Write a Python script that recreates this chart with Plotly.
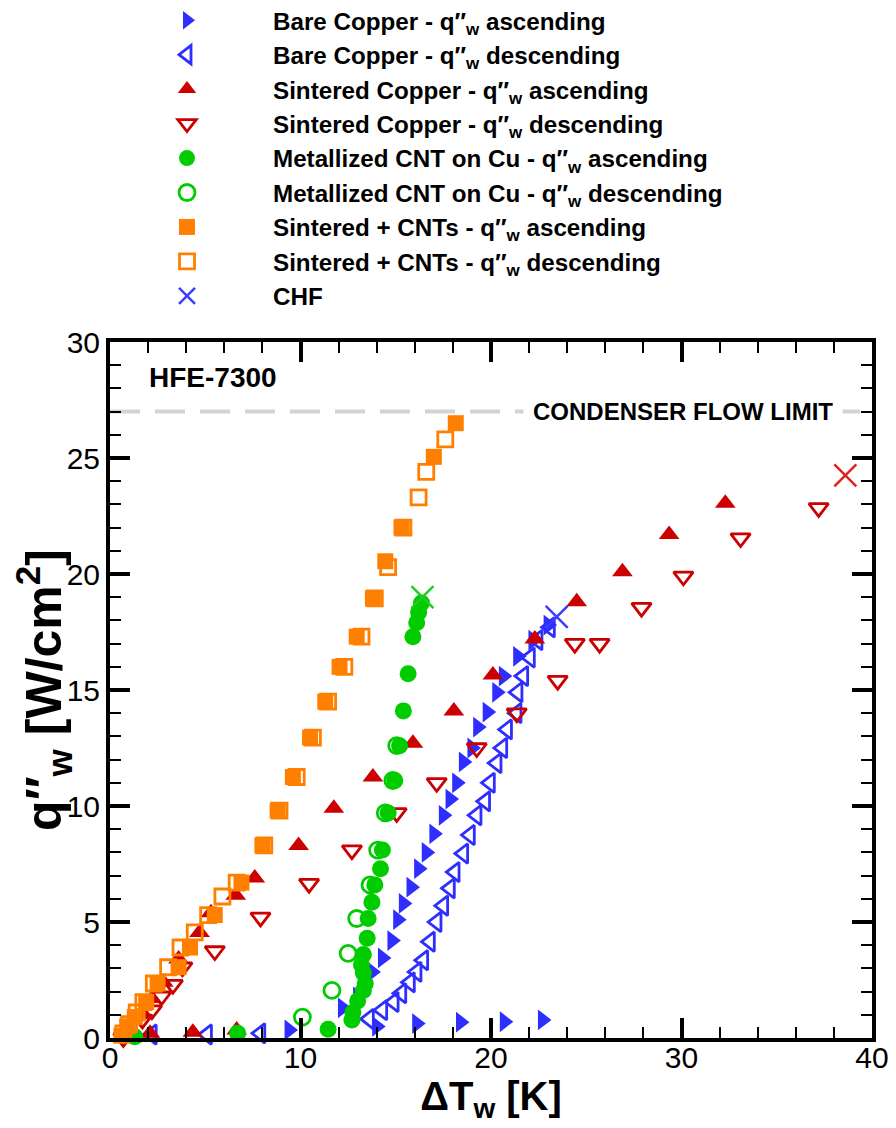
import plotly.graph_objects as go

# ---------------- data ----------------
bare_asc_x = [9.4, 14.0, 16.1, 18.4, 20.7, 22.7, 12.2, 13.0, 13.75, 14.3, 14.8, 15.1, 15.4, 15.8, 16.2, 16.6,
              17.0, 17.5, 17.85, 18.2, 18.55, 19.0, 19.3, 19.8, 20.3, 20.65, 21.4, 22.2, 23.0]
bare_asc_y = [0.35, 0.5, 0.62, 0.68, 0.7, 0.78, 1.3, 1.77, 2.85, 3.45, 4.2, 5.1, 5.8, 6.5, 7.3, 8.0,
              8.8, 9.6, 10.3, 11.0, 11.9, 12.5, 13.4, 14.05, 14.9, 15.6, 16.45, 17.15, 17.8]

bare_desc_x = [23.1, 22.45, 22.05, 21.7, 21.4, 21.35, 20.85, 20.6, 20.3, 19.95, 19.7, 19.25, 18.9, 18.55,
               18.1, 17.85, 17.5, 17.15, 16.8, 16.45, 16.1, 15.75, 15.3, 14.9, 14.3, 13.6, 7.9, 5.1, 2.2]
bare_desc_y = [17.7, 17.15, 16.4, 15.6, 14.9, 14.0, 13.3, 12.5, 11.85, 11.0, 10.2, 9.6, 8.75, 7.95,
               7.15, 6.45, 5.7, 5.0, 4.15, 3.35, 2.85, 2.4, 1.93, 1.55, 1.2, 0.82, 0.2, 0.15, 0.15]

sint_asc_x = [0.7, 2.1, 4.35, 6.65, 1.0, 1.6, 2.2, 2.8, 3.6, 4.7, 5.3, 6.6, 7.6, 9.9, 11.75, 13.8, 15.9,
              18.05, 20.1, 22.3, 24.5, 26.9, 29.35, 32.3]
sint_asc_y = [0.0, 0.2, 0.25, 0.35, 0.4, 1.0, 1.7, 2.4, 3.4, 4.55, 5.4, 6.15, 6.9, 8.3, 9.9, 11.25, 12.7,
              14.1, 15.65, 17.2, 18.8, 20.1, 21.7, 23.05]

sint_desc_x = [37.2, 33.1, 30.1, 27.9, 25.7, 24.4, 23.5, 21.35, 19.25, 17.15, 15.05, 12.7, 10.45, 7.9,
               5.5, 3.8, 3.3, 2.7, 2.2, 1.7, 0.7]
sint_desc_y = [22.85, 21.55, 19.9, 18.55, 17.0, 17.0, 15.4, 14.0, 12.5, 11.0, 9.7, 8.1, 6.65, 5.2,
               3.75, 3.05, 2.3, 1.8, 1.2, 0.8, 0.0]

cnt_asc_x = [1.3, 6.7, 11.45, 12.7, 12.75, 13.0, 13.3, 13.4, 13.3, 13.2, 13.3, 13.5, 13.55, 13.75, 13.9,
             14.2, 14.3, 14.6, 14.95, 15.2, 15.4, 15.65, 15.9, 16.1, 16.2, 16.35]
cnt_asc_y = [0.05, 0.2, 0.38, 0.78, 1.1, 1.6, 2.05, 2.35, 2.8, 3.15, 3.6, 4.3, 5.15, 5.85, 6.6,
             7.3, 8.1, 9.7, 11.1, 12.6, 14.1, 15.7, 17.3, 17.9, 18.35, 18.75]

cnt_desc_x = [15.05, 14.85, 14.45, 14.05, 13.65, 12.95, 12.5, 11.65, 10.1]
cnt_desc_y = [12.6, 11.1, 9.7, 8.1, 6.6, 5.15, 3.65, 2.05, 0.9]

scnt_asc_x = [0.6, 0.9, 1.3, 1.9, 2.5, 3.6, 4.2, 5.5, 6.9, 8.0, 8.8, 9.6, 10.5, 11.3, 12.05, 12.95,
              13.8, 14.45, 15.3, 17.0, 18.15]
scnt_asc_y = [0.1, 0.5, 0.9, 1.55, 2.35, 3.05, 3.9, 5.3, 6.7, 8.3, 9.8, 11.25, 12.95, 14.5, 16.0, 17.3,
              18.95, 20.55, 22.0, 25.05, 26.5]

scnt_desc_x = [17.6, 16.6, 16.2, 15.4, 14.6, 13.9, 13.2, 12.3, 11.45, 10.65, 9.8, 8.9, 8.1, 6.65, 5.9,
               5.15, 4.45, 3.7, 3.05, 2.3, 1.75, 1.4, 1.0, 0.7]
scnt_desc_y = [25.8, 24.4, 23.3, 22.0, 20.3, 18.95, 17.3, 16.0, 14.5, 12.95, 11.25, 9.8, 8.3, 6.7, 6.1,
               5.3, 4.55, 3.9, 3.05, 2.35, 1.55, 1.1, 0.6, 0.2]

chf_x = [23.45, 16.4, 38.6]
chf_y = [18.15, 19.0, 24.25]
chf_colors = ["#3d3dff", "#22cc22", "#dd2222"]

limit_y = 27
x_range = [0, 40]
y_range = [0, 30]

BLUE = "#2e2eff"
RED = "#cc0000"
GREEN = "#00cc00"
ORANGE = "#ff8000"
FONT = "Liberation Sans, Arial"

fig = go.Figure()

def add(x, y, name, symbol, color, filled, size=15):
    if filled:
        marker = dict(symbol=symbol, size=size, color=color, line=dict(width=0))
    else:
        marker = dict(symbol=symbol + "-open", size=size - 1, color=color, line=dict(width=2.8, color=color))
    fig.add_trace(go.Scatter(x=x, y=y, mode="markers", name=name, marker=marker, cliponaxis=False))

add(bare_asc_x, bare_asc_y, "Bare Copper - q″<sub>w</sub> ascending", "triangle-right", BLUE, True, 18)
add(bare_desc_x, bare_desc_y, "Bare Copper - q″<sub>w</sub> descending", "triangle-left", BLUE, False, 18)
add(sint_asc_x, sint_asc_y, "Sintered Copper - q″<sub>w</sub> ascending", "triangle-up", RED, True, 18)
add(sint_desc_x, sint_desc_y, "Sintered Copper - q″<sub>w</sub> descending", "triangle-down", RED, False, 18)
add(cnt_asc_x, cnt_asc_y, "Metallized CNT on Cu - q″<sub>w</sub> ascending", "circle", GREEN, True, 17)
add(cnt_desc_x, cnt_desc_y, "Metallized CNT on Cu - q″<sub>w</sub> descending", "circle", GREEN, False, 17)
add(scnt_asc_x, scnt_asc_y, "Sintered + CNTs - q″<sub>w</sub> ascending", "square", ORANGE, True, 16)
add(scnt_desc_x, scnt_desc_y, "Sintered + CNTs - q″<sub>w</sub> descending", "square", ORANGE, False, 16)
fig.add_trace(go.Scatter(x=chf_x, y=chf_y, mode="markers", name="CHF", cliponaxis=False,
                         marker=dict(symbol="x-thin-open", size=22, color=chf_colors,
                                     line=dict(width=2.5, color=chf_colors))))

fig.add_shape(type="line", xref="x", yref="y", x0=x_range[0], x1=x_range[1], y0=limit_y, y1=limit_y,
              line=dict(color="#d3d3d3", width=4, dash="30px,15px"), layer="below")
fig.add_annotation(x=38.48, y=limit_y, xref="x", yref="y", text="CONDENSER FLOW LIMIT", showarrow=False,
                   xanchor="right", yanchor="middle", bgcolor="white", borderpad=9,
                   font=dict(family=FONT, size=24, color="black", weight="bold"))
fig.add_annotation(x=1.94, y=28.45, xref="x", yref="y", text="HFE-7300", showarrow=False,
                   xanchor="left", yanchor="middle",
                   font=dict(family=FONT, size=28, color="black", weight="bold"))

axis_common = dict(showline=True, linewidth=4, linecolor="black", mirror="ticks", ticks="inside",
                   ticklen=20, tickwidth=4, tickcolor="black", showgrid=False, zeroline=False,
                   tickfont=dict(family=FONT, size=30, color="black"))

fig.update_xaxes(range=x_range, dtick=10, tick0=0, ticklabelstandoff=-10,
                 minor=dict(dtick=2, ticks="inside", ticklen=11, tickwidth=1.5, tickcolor="black"),
                 title=dict(text="ΔT<sub>w</sub> [K]", standoff=0,
                            font=dict(family=FONT, size=40, color="black", weight="bold")),
                 **axis_common)
fig.update_yaxes(range=y_range, dtick=5, tick0=0,
                 minor=dict(dtick=1, ticks="inside", ticklen=11, tickwidth=1.5, tickcolor="black"),
                 title=dict(text="q″<sub>w</sub> [W/cm<sup>2</sup>]", standoff=0,
                            font=dict(family=FONT, size=50, color="black", weight="bold")),
                 **axis_common)

fig.update_layout(
    width=896, height=1128,
    margin=dict(l=102, r=32, t=334, b=98, autoexpand=False),
    paper_bgcolor="white", plot_bgcolor="white",
    legend=dict(x=-0.0118, y=1.4943, xanchor="left", yanchor="top",
                bgcolor="rgba(0,0,0,0)", itemwidth=162, traceorder="normal",
                font=dict(family=FONT, size=24.2, color="black", weight="bold")),
)

fig.write_html("out.html")
